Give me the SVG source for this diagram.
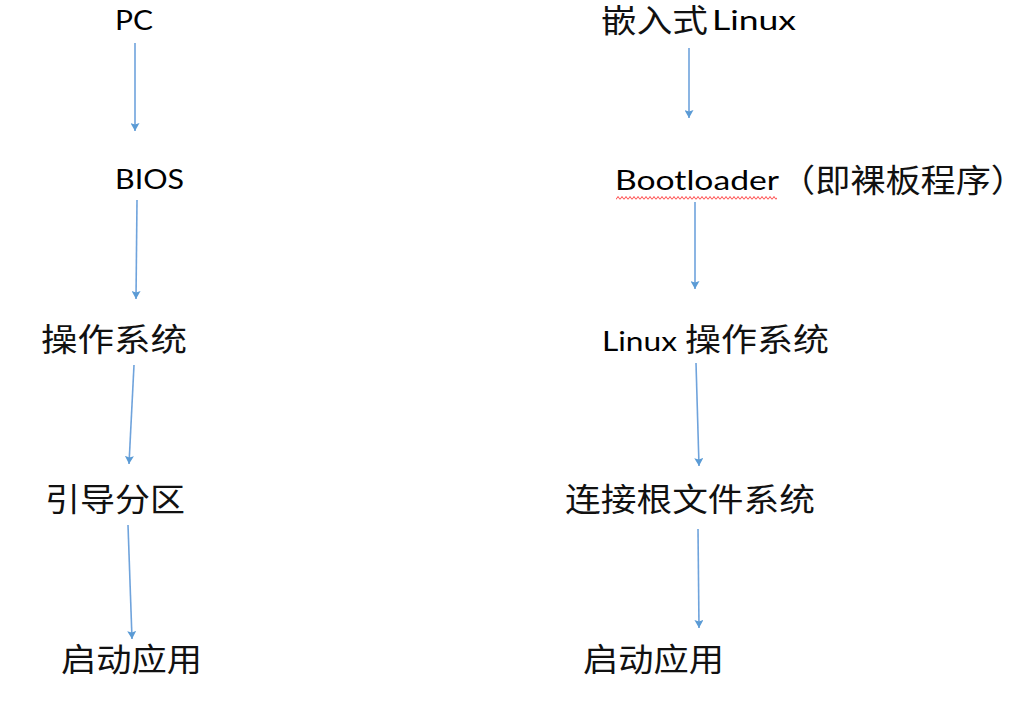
<svg xmlns="http://www.w3.org/2000/svg" width="1029" height="717" viewBox="0 0 1029 717">
<style>
.lat{font-family:"Lato","Liberation Sans",sans-serif;font-size:27px;fill:#000}
.cjk{font-family:"Noto Sans CJK SC","Noto Sans CJK JP",sans-serif;font-size:32px;fill:#111}
.con{stroke:#6FA3DC;stroke-width:1.6;fill:none;marker-end:url(#ah)}
</style>
<defs>
<marker id="ah" markerUnits="userSpaceOnUse" viewBox="0 0 8 9" refX="8" refY="4.5" markerWidth="8" markerHeight="9" orient="auto">
<path d="M0,0 L8,4.5 L0,9 L1.5,4.5 z" fill="#5B9BD5"/>
</marker>
<pattern id="wave" patternUnits="userSpaceOnUse" x="616" y="196" width="4" height="4">
<polyline points="0,3.5 2,0.5 4,3.5" fill="none" stroke="#FF3333" stroke-width="0.9"/>
</pattern>
</defs>
<rect width="1029" height="717" fill="#fff"/>
<g id="connectors">
<path class="con" d="M135,43 L135,131"/>
<path class="con" d="M137,200 L136,299"/>
<path class="con" d="M134,365 L129,464"/>
<path class="con" d="M128,525 L132,639"/>
<path class="con" d="M689,48 L689,118"/>
<path class="con" d="M695,202 L695,289"/>
<path class="con" d="M696,363 L699,466"/>
<path class="con" d="M698,529 L699,628"/>
</g>
<g id="n-pc"><text class="lat" x="115" y="30" textLength="38" lengthAdjust="spacingAndGlyphs">PC</text></g>
<g id="n-bios"><text class="lat" x="115" y="189" textLength="69" lengthAdjust="spacingAndGlyphs">BIOS</text></g>
<g id="n-os"><text class="cjk" x="41" y="351" textLength="146" lengthAdjust="spacingAndGlyphs">操作系统</text></g>
<g id="n-boot"><text class="cjk" x="45" y="511" textLength="140" lengthAdjust="spacingAndGlyphs">引导分区</text></g>
<g id="n-app-l"><text class="cjk" x="61" y="671" textLength="141" lengthAdjust="spacingAndGlyphs">启动应用</text></g>
<g id="n-emb">
<text class="cjk" x="601" y="32" textLength="107" lengthAdjust="spacingAndGlyphs">嵌入式</text>
<text class="lat" x="712" y="30" textLength="84" lengthAdjust="spacingAndGlyphs">Linux</text>
</g>
<g id="n-bootloader">
<text class="lat" x="615" y="190" textLength="164" lengthAdjust="spacingAndGlyphs">Bootloader</text>
<text class="cjk" x="780" y="192" textLength="246" lengthAdjust="spacingAndGlyphs">（即裸板程序）</text>
<rect x="616" y="196" width="161" height="4" fill="url(#wave)"/>
</g>
<g id="n-linux-os">
<text class="lat" x="602" y="351" textLength="75" lengthAdjust="spacingAndGlyphs">Linux</text>
<text class="cjk" x="685" y="351" textLength="144" lengthAdjust="spacingAndGlyphs">操作系统</text>
</g>
<g id="n-rootfs"><text class="cjk" x="565" y="511" textLength="250" lengthAdjust="spacingAndGlyphs">连接根文件系统</text></g>
<g id="n-app-r"><text class="cjk" x="583" y="671" textLength="141" lengthAdjust="spacingAndGlyphs">启动应用</text></g>
</svg>
